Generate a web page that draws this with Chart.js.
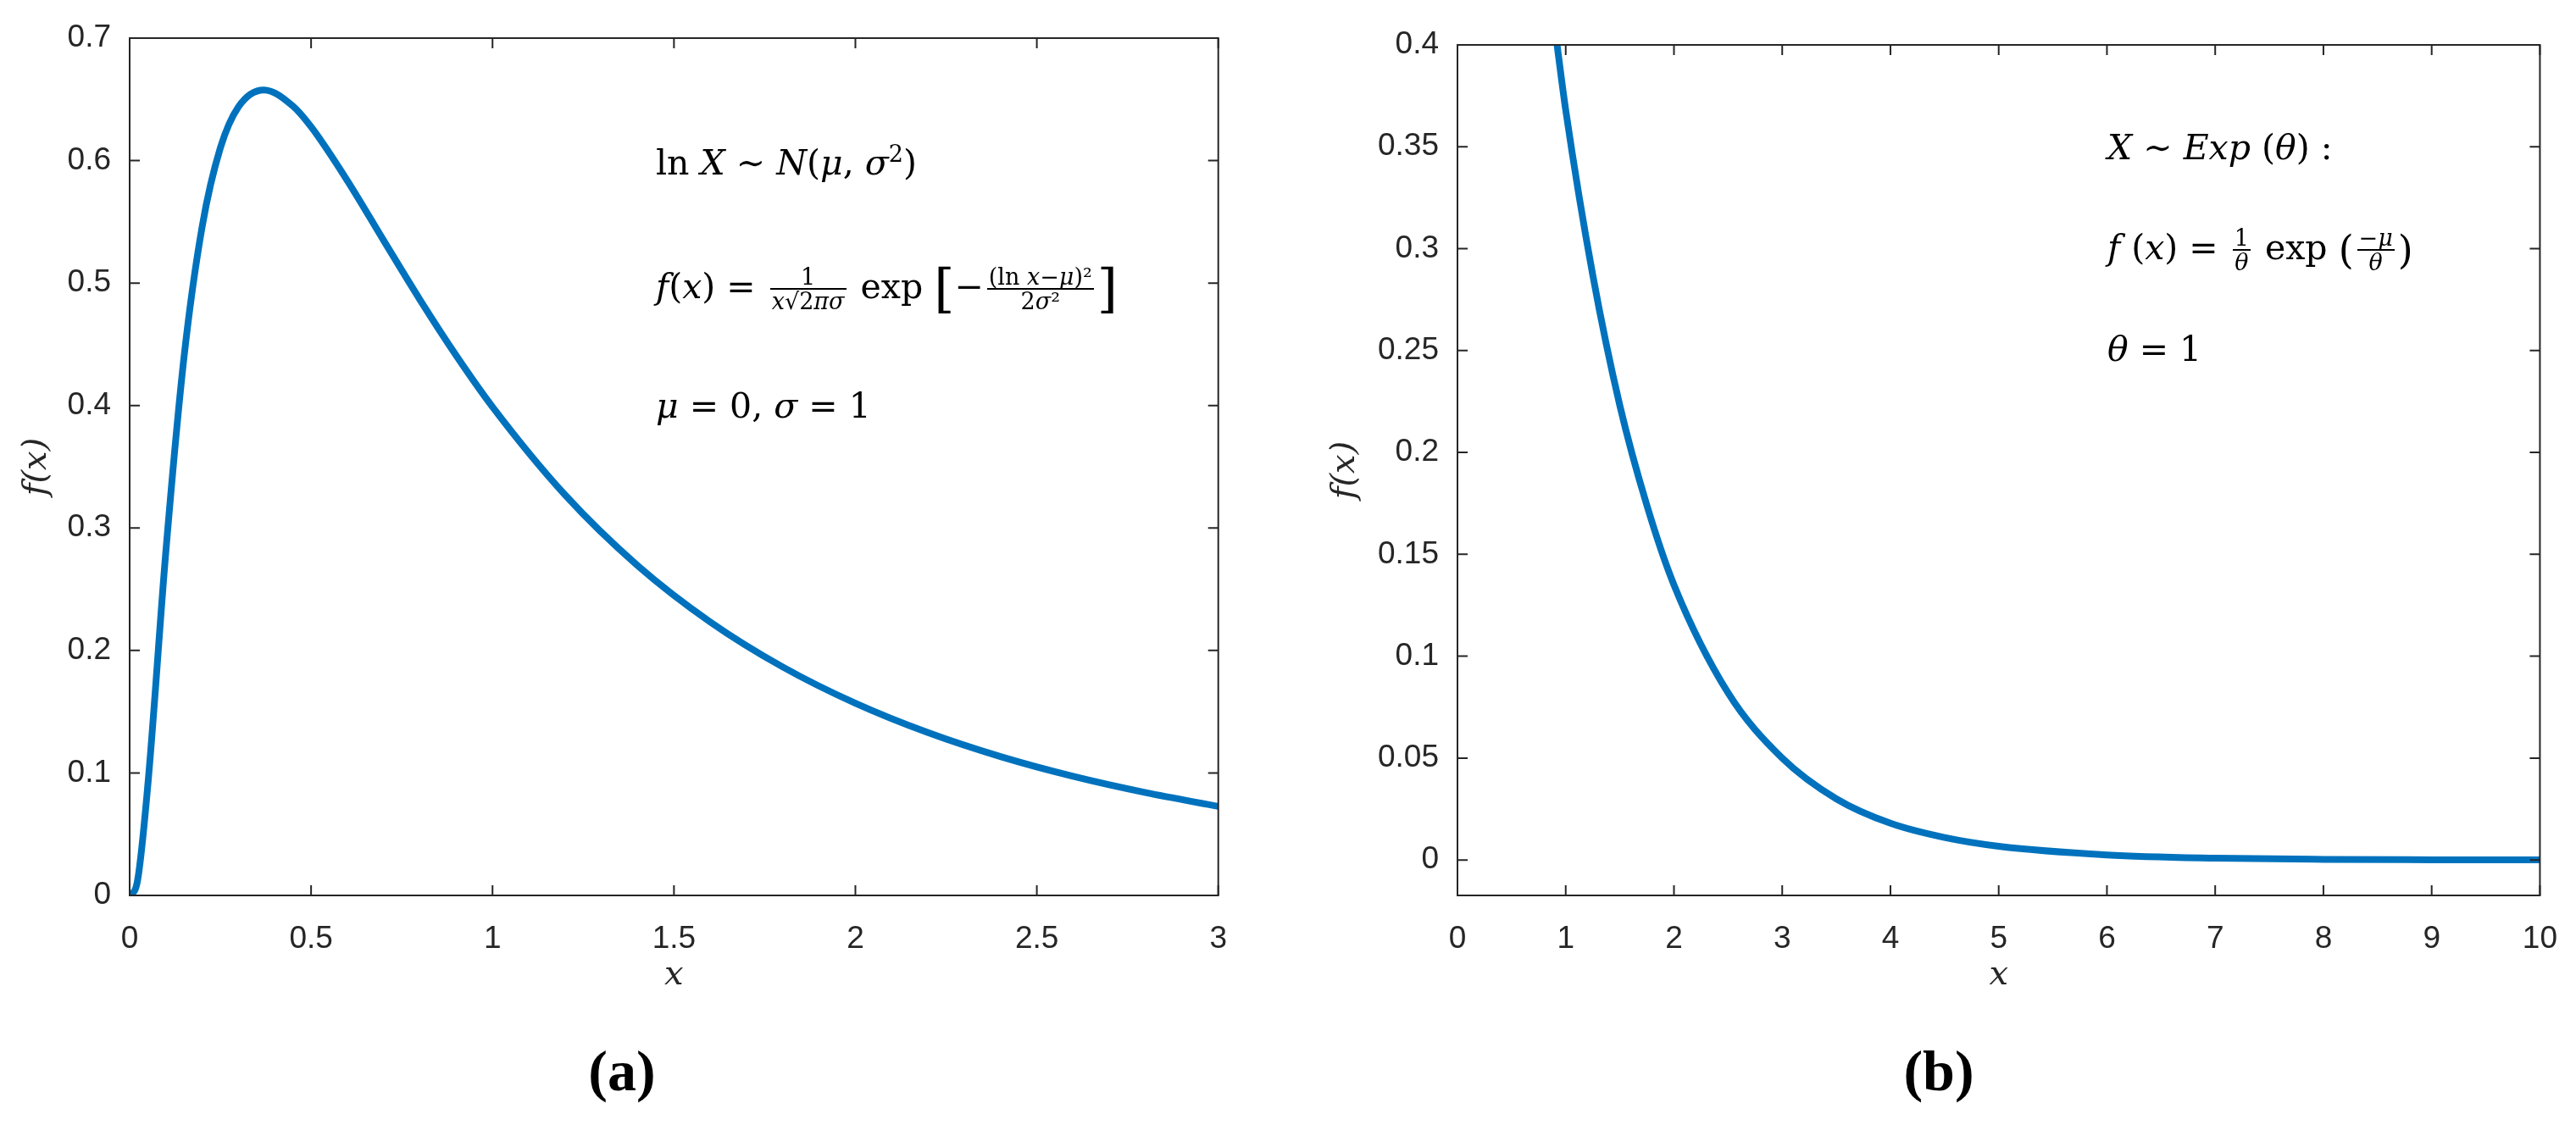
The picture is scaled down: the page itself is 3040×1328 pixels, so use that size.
<!DOCTYPE html>
<html><head><meta charset="utf-8">
<script src="https://cdn.jsdelivr.net/npm/chart.js@4"></script>
<style>
body{margin:0;background:#fff;width:3040px;height:1328px;position:relative;overflow:hidden}
.c{position:absolute;top:0}
.t{position:absolute;font-family:"DejaVu Serif","Liberation Serif",serif;font-size:41px;color:#000;white-space:nowrap;line-height:1}
.t i{font-style:italic}
.fr{display:inline-block;vertical-align:middle;text-align:center;font-size:27px;margin:0 4px}
.fr span{display:block;padding:0 2px}
.fr span:first-child{border-bottom:2px solid #000}
.big{font-size:62px;vertical-align:middle}
.lab{position:absolute;font-family:"Liberation Serif",serif;font-weight:bold;font-size:68px;transform:translate(-50%,-50%)}
</style></head><body>
<div class="c" style="left:0"><canvas id="a" width="1470" height="1200" style="width:1470px;height:1200px"></canvas></div>
<div class="c" style="left:1520px"><canvas id="b" width="1520" height="1200" style="width:1520px;height:1200px"></canvas></div>

<div class="t" style="left:774px;top:168px">ln <i>X</i> ∼ <i>N</i>(<i>μ</i>, <i>σ</i><sup style="font-size:27px">2</sup>)</div>
<div class="t" style="left:774px;top:310px"><i>f</i>(<i>x</i>) = <span class="fr"><span>1</span><span><i>x</i>√2<i>πσ</i></span></span> exp <span class="big">[</span>−<span class="fr"><span>(ln <i>x</i>−<i>μ</i>)²</span><span>2<i>σ</i>²</span></span><span class="big">]</span></div>
<div class="t" style="left:774px;top:459px"><i>μ</i> = 0, <i>σ</i> = 1</div>

<div class="t" style="left:2487px;top:154px"><i>X</i> ∼ <i>Exp</i> (<i>θ</i>) :</div>
<div class="t" style="left:2487px;top:267px"><i>f</i> (<i>x</i>) = <span class="fr"><span>1</span><span><i>θ</i></span></span> exp <span class="big" style="font-size:46px">(</span><span class="fr"><span>−<i>μ</i></span><span><i>θ</i></span></span><span class="big" style="font-size:46px">)</span></div>
<div class="t" style="left:2487px;top:392px"><i>θ</i> = 1</div>

<div class="lab" style="left:734px;top:1264px">(a)</div>
<div class="lab" style="left:2288px;top:1264px">(b)</div>

<script>
const lnX=[0,0.02,0.05,0.1,0.15,0.2,0.25,0.3,0.37,0.45,0.5,0.6,0.7,0.8,0.9,1,1.2,1.4,1.6,1.8,2,2.2,2.4,2.6,2.8,3];
const lnY=[0,0.0095,0.0898,0.2816,0.440,0.5464,0.6104,0.644,0.6577,0.6445,0.6276,0.5836,0.5348,0.4864,0.4408,0.3989,0.327,0.2693,0.2233,0.1865,0.1569,0.1329,0.1133,0.0972,0.0839,0.0727];
const exX=[0.92,1,1.25,1.5,1.75,2,2.5,3,3.5,4,4.5,5,6,7,8,9,10];
const exY=[0.4,0.368,0.287,0.223,0.174,0.135,0.082,0.050,0.030,0.018,0.011,0.0067,0.0025,0.0009,0.0003,0.0001,0.00005];
const aXTicks=[0,0.5,1,1.5,2,2.5,3], aYTicks=[0,0.1,0.2,0.3,0.4,0.5,0.6,0.7];
const bXTicks=[0,1,2,3,4,5,6,7,8,9,10], bYTicks=[0,0.05,0.1,0.15,0.2,0.25,0.3,0.35,0.4];

const frame={id:'frame',afterDraw(ch){
  const c=ch.ctx,a=ch.chartArea,L=12;c.save();c.strokeStyle='#262626';c.lineWidth=2;
  c.strokeRect(a.left,a.top,a.right-a.left,a.bottom-a.top);
  c.beginPath();
  ch.scales.x.ticks.forEach(t=>{const p=ch.scales.x.getPixelForValue(t.value);c.moveTo(p,a.bottom);c.lineTo(p,a.bottom-L);c.moveTo(p,a.top);c.lineTo(p,a.top+L);});
  ch.scales.y.ticks.forEach(t=>{const p=ch.scales.y.getPixelForValue(t.value);c.moveTo(a.left,p);c.lineTo(a.left+L,p);c.moveTo(a.right,p);c.lineTo(a.right-L,p);});
  c.stroke();c.restore();}};

function make(id,xs,ys,xmin,xmax,ymin,ymax,xt,yt,pad,yw,ytp){
  new Chart(document.getElementById(id),{type:'scatter',
    data:{datasets:[{data:xs.map((x,i)=>({x,y:ys[i]})),showLine:true,borderColor:'#0072BD',borderWidth:8,pointRadius:0,tension:0.4,cubicInterpolationMode:'monotone'}]},
    options:{responsive:false,animation:false,events:[],layout:{padding:pad},
      plugins:{legend:{display:false},tooltip:{enabled:false}},
      scales:{
        x:{type:'linear',min:xmin,max:xmax,grid:{display:false},border:{display:false},
          afterBuildTicks:s=>{s.ticks=xt.map(v=>({value:v}));},afterFit:s=>{s.height=143;},
          ticks:{font:{family:'Liberation Sans',size:37},color:'#262626',padding:22,maxRotation:0,callback:v=>String(v)},
          title:{display:true,text:'x',font:{family:'DejaVu Serif',style:'italic',size:40},color:'#262626',padding:{top:0,bottom:24}}},
        y:{type:'linear',min:ymin,max:ymax,grid:{display:false},border:{display:false},
          afterBuildTicks:s=>{s.ticks=yt.map(v=>({value:v}));},afterFit:s=>{s.width=yw;},
          ticks:{font:{family:'Liberation Sans',size:37},color:'#262626',padding:14,callback:v=>String(v)},
          title:{display:true,text:'f(x)',font:{family:'DejaVu Serif',style:'italic',size:40},color:'#262626',padding:{top:ytp,bottom:0}}}}},
    plugins:[frame]});
}
make('a',lnX,lnY,0,3,0,0.7,aXTicks,aYTicks,{top:45,right:32,left:0,bottom:0},153,20);
make('b',exX,exY,0,10,-0.0174,0.4,bXTicks,bYTicks,{top:53,right:38,left:0,bottom:0},200,44);
</script>
</body></html>
